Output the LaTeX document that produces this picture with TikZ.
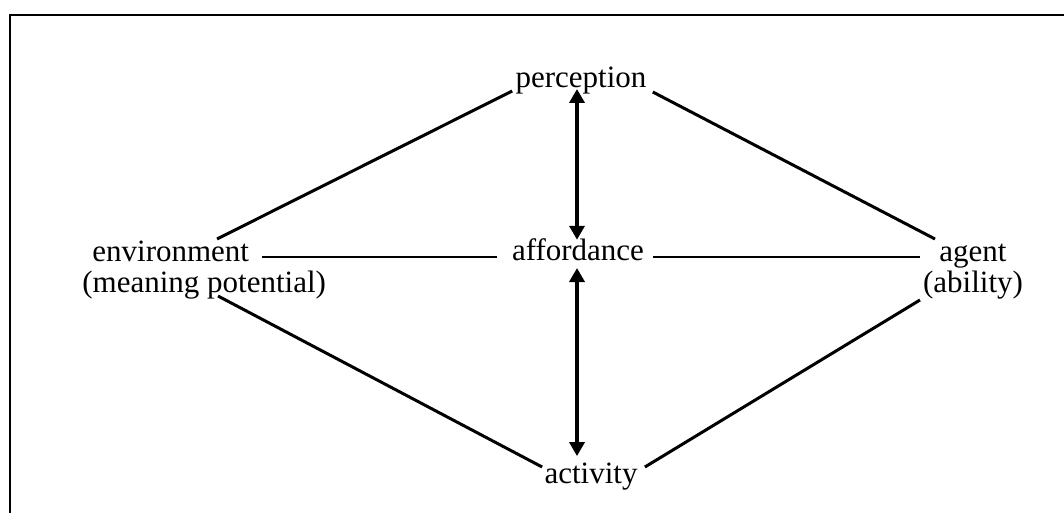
\documentclass[tikz,border=0pt]{standalone}
\usepackage{fontspec}
\setmainfont{Liberation Serif}
\usetikzlibrary{calc,arrows.meta}
\begin{document}
\begin{tikzpicture}[x=0.5pt,y=-0.5pt,
  lbl/.style={inner sep=0pt,font=\fontsize{15.5}{15.5}\selectfont},
  link/.style={line width=1.5pt},
  thinlink/.style={line width=0.8pt},
  dbl/.style={line width=2pt,{Triangle[length=7pt,width=7.5pt]}-{Triangle[length=7pt,width=7.5pt]}},
  frame/.style={line width=1.3pt}]
\useasboundingbox (0,0) rectangle (1064,513);
\draw[frame] (1064,15) -- (10,15) -- (10,513);
\node[lbl,anchor=base] (perc) at (581,88) {perception};
\node[lbl,anchor=base] (aff) at (578,260) {affordance};
\node[lbl,anchor=base] (act) at (591,483) {activity};
\node[lbl,anchor=base west,align=left] (env) at (82,292) {\hspace*{5pt}environment\\(meaning potential)};
\node[lbl,anchor=base,align=center] (agent) at (973,292) {agent\\(ability)};
\draw[link] ($(env.base west)+(135,-53)$) -- ($(perc.base west)+(-3,3)$);
\draw[link] ($(perc.base east)+(6,4)$) -- ($(agent.base)+(-38,-53)$);
\draw[thinlink] ($(env.base west)+(180,-35)$) -- ($(aff.base west)+(-15,-3)$);
\draw[thinlink] ($(aff.base east)+(9,-3)$) -- ($(agent.base)+(-53,-35)$);
\draw[link] ($(env.base west)+(136,4)$) -- ($(act.base west)+(-2,-16)$);
\draw[link] ($(act.base east)+(7,-16)$) -- ($(agent.base)+(-53,8)$);
\draw[dbl] ($(aff.base |- perc.base)+(-1,1)$) -- ($(aff.north)+(-1,2)$);
\draw[dbl] ($(aff.base)+(-1,8)$) -- ($(aff.base |- act.north)+(-1,-6)$);
\end{tikzpicture}
\end{document}
